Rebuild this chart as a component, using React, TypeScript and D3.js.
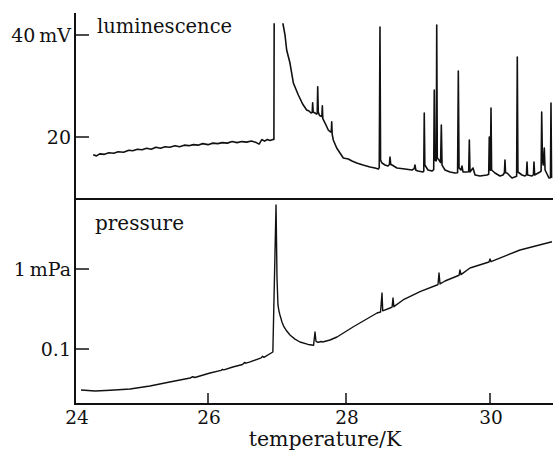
import React from "react";
import * as d3 from "d3";

// luminescence: [temperature K, signal mV]
const luminescence: [number, number][] = [
  [24.26, 16.5], [24.31, 16.3], [24.36, 16.7], [24.43, 16.6], [24.5, 16.9], [24.57, 16.8],
  [24.64, 17.1], [24.72, 17.0], [24.8, 17.4], [24.86, 17.3], [24.93, 17.6], [25.0, 17.5],
  [25.07, 17.8], [25.14, 17.6], [25.21, 18.0], [25.28, 17.8], [25.35, 18.1], [25.42, 18.0],
  [25.5, 18.3], [25.57, 18.1], [25.64, 18.4], [25.71, 18.3], [25.78, 18.5], [25.85, 18.4],
  [25.92, 18.7], [26.0, 18.5], [26.07, 18.8], [26.14, 18.7], [26.21, 18.9], [26.28, 18.8],
  [26.35, 19.1], [26.42, 18.9], [26.49, 19.1], [26.56, 19.0], [26.63, 19.2], [26.7, 18.9],
  [26.74, 18.6], [26.78, 19.5], [26.82, 19.2], [26.86, 19.5], [26.9, 19.3], [26.94, 19.5],
  [26.955, 19.5], [26.96, 48], [27.08, 48], [27.087, 42.16], [27.116, 40.0], [27.14, 37.06],
  [27.188, 34.5], [27.237, 30.6], [27.309, 28.24], [27.358, 26.86], [27.381, 26.27],
  [27.43, 25.29], [27.464, 25.1], [27.493, 24.7], [27.51, 24.8], [27.517, 26.7], [27.524, 24.9],
  [27.551, 24.7], [27.573, 24.5], [27.583, 24.6], [27.59, 29.86], [27.598, 24.9], [27.613, 24.3],
  [27.63, 24.1], [27.65, 24.0], [27.657, 26.1], [27.664, 23.6], [27.71, 22.35], [27.743, 21.37],
  [27.775, 21.0], [27.787, 21.0], [27.793, 23.0], [27.8, 20.5], [27.816, 19.41], [27.865, 17.84],
  [27.913, 16.86], [27.961, 15.88], [28.032, 15.69], [28.083, 15.3], [28.149, 14.9],
  [28.236, 14.51], [28.333, 14.12], [28.403, 13.92], [28.449, 13.73], [28.462, 14.0],
  [28.472, 41.57], [28.48, 15.49], [28.5, 14.9], [28.542, 14.51], [28.583, 14.31], [28.603, 14.6],
  [28.611, 16.08], [28.622, 14.6], [28.639, 14.51], [28.708, 13.92], [28.819, 13.73],
  [28.917, 13.53], [28.948, 13.8], [28.958, 14.51], [28.97, 13.5], [29.0, 13.33], [29.069, 13.14],
  [29.08, 13.3], [29.087, 24.71], [29.095, 14.5], [29.139, 13.53], [29.194, 13.33],
  [29.218, 13.6], [29.226, 29.22], [29.234, 15.49], [29.25, 15.3], [29.254, 15.4],
  [29.26, 41.96], [29.268, 15.88], [29.292, 15.49], [29.314, 15.0], [29.324, 22.35],
  [29.334, 14.5], [29.375, 13.53], [29.444, 13.14], [29.514, 12.94], [29.55, 13.0],
  [29.56, 32.94], [29.57, 13.92], [29.597, 13.53], [29.611, 14.31], [29.625, 13.14],
  [29.667, 13.14], [29.704, 13.2], [29.713, 19.41], [29.722, 13.14], [29.764, 13.92],
  [29.792, 12.55], [29.861, 12.35], [29.958, 12.55], [29.982, 12.7], [29.99, 20.0],
  [29.998, 13.53], [30.005, 13.5], [30.014, 25.69], [30.022, 13.53], [30.069, 12.94],
  [30.139, 12.35], [30.18, 12.55], [30.2, 13.0], [30.208, 15.49], [30.216, 13.0],
  [30.236, 12.94], [30.306, 11.96], [30.37, 12.3], [30.379, 35.69], [30.388, 13.14],
  [30.444, 12.55], [30.486, 12.35], [30.506, 12.6], [30.514, 15.1], [30.522, 12.55],
  [30.583, 12.35], [30.603, 12.6], [30.611, 15.1], [30.62, 12.55], [30.694, 13.14],
  [30.71, 13.3], [30.718, 24.9], [30.728, 15.49], [30.74, 14.5], [30.754, 17.84],
  [30.765, 13.53], [30.819, 11.96], [30.84, 12.0], [30.847, 26.67], [30.855, 11.96],
];

// pressure: [temperature K, pressure mPa]
const pressure: [number, number][] = [
  [24.076, 0.0307], [24.29, 0.0299], [24.52, 0.0305], [24.82, 0.0316], [25.12, 0.0345],
  [25.42, 0.0387], [25.73, 0.0434], [25.77, 0.045], [25.8, 0.044], [26.03, 0.0501],
  [26.19, 0.054], [26.21, 0.0556], [26.23, 0.0548], [26.36, 0.0596], [26.5, 0.064],
  [26.53, 0.068], [26.55, 0.0665], [26.61, 0.069], [26.77, 0.0775], [26.79, 0.081],
  [26.81, 0.0785], [26.94, 0.0917], [26.986, 6.31], [27.0, 0.772], [27.014, 0.355],
  [27.028, 0.3], [27.043, 0.266], [27.072, 0.2176], [27.1, 0.19], [27.13, 0.1728],
  [27.188, 0.1496], [27.26, 0.133], [27.333, 0.1223], [27.45, 0.114], [27.507, 0.1122],
  [27.53, 0.111], [27.551, 0.163], [27.565, 0.125], [27.58, 0.1223], [27.6, 0.1215],
  [27.64, 0.124], [27.66, 0.1225], [27.768, 0.1296], [27.87, 0.1413], [27.98, 0.162],
  [28.097, 0.1884], [28.27, 0.232], [28.431, 0.2818], [28.48, 0.29], [28.5, 0.501],
  [28.51, 0.3], [28.611, 0.3255], [28.64, 0.334], [28.653, 0.434], [28.665, 0.338],
  [28.792, 0.41], [29.028, 0.52], [29.264, 0.631], [29.278, 0.64], [29.292, 0.891],
  [29.306, 0.65], [29.375, 0.708], [29.57, 0.835], [29.583, 0.972], [29.597, 0.85],
  [29.722, 1.029], [29.986, 1.223], [30.0, 1.334], [30.014, 1.235], [30.417, 1.727],
  [30.861, 2.19],
];

const xTicks = [24, 26, 28, 30];
const xTickLabels = ["24", "26", "28", "30"];
const lumTicks = [20, 40];
const lumTickLabels = ["20", "40\u2009mV"];
const presTicks = [0.1, 1];
const presTickLabels = ["0.1", "1\u2009mPa"];

const W = 553;
const H = 452;
const FONT = "'DejaVu Serif', serif";

export default function App() {
  const left = 75;
  const sep = 199;
  const bottom = 404;
  const top = 13;

  const x = d3.scaleLinear().domain([24, 26, 28, 30, 31]).range([76, 208, 346, 490, 562]);
  const yLum = d3.scaleLinear().domain([20, 40]).range([137, 35]);
  const yPres = d3.scaleLog().domain([Math.pow(10, -1.6875), Math.pow(10, 0.875)]).range([bottom, sep]);

  const lumLine = d3
    .line<[number, number]>()
    .x((d) => x(d[0]))
    .y((d) => yLum(d[1]));
  const presLine = d3
    .line<[number, number]>()
    .x((d) => x(d[0]))
    .y((d) => yPres(d[1]));

  return (
    <svg
      width={W}
      height={H}
      style={{ position: "absolute", left: 0, top: 0, background: "#fff" }}
      fontFamily={FONT}
    >
      <defs>
        <clipPath id="clipLum">
          <rect x={left} y={yLum(42.3)} width={W - left} height={sep - yLum(42.3)} />
        </clipPath>
        <clipPath id="clipPres">
          <rect x={left} y={sep + 1} width={W - left} height={bottom - sep - 2} />
        </clipPath>
      </defs>

      {/* data */}
      <path
        d={lumLine(luminescence) || ""}
        fill="none"
        stroke="#111"
        strokeWidth={1.6}
        strokeLinejoin="round"
        clipPath="url(#clipLum)"
      />
      <path
        d={presLine(pressure) || ""}
        fill="none"
        stroke="#111"
        strokeWidth={1.4}
        strokeLinejoin="round"
        clipPath="url(#clipPres)"
      />

      {/* frame */}
      <line x1={left} x2={left} y1={top} y2={bottom + 1} stroke="#111" strokeWidth={2} />
      <line x1={left} x2={W} y1={sep} y2={sep} stroke="#111" strokeWidth={2} />
      <line x1={left - 1} x2={W} y1={bottom} y2={bottom} stroke="#111" strokeWidth={2} />

      {/* x ticks */}
      {xTicks.map((t, i) => (
        <g key={"xt" + t}>
          {i > 0 && (
            <line x1={x(t)} x2={x(t)} y1={bottom} y2={bottom - 11} stroke="#111" strokeWidth={1.5} />
          )}
          <text x={x(t) + 1} y={424} fontSize={18.5} textAnchor="middle" fill="#111">
            {xTickLabels[i]}
          </text>
        </g>
      ))}

      {/* luminescence ticks */}
      {lumTicks.map((t, i) => (
        <g key={"lt" + t}>
          <line x1={left} x2={left + 14} y1={yLum(t)} y2={yLum(t)} stroke="#111" strokeWidth={1.5} />
          <text x={71} y={yLum(t) + 7} fontSize={19} textAnchor="end" fill="#111">
            {lumTickLabels[i]}
          </text>
        </g>
      ))}

      {/* pressure ticks */}
      {presTicks.map((t, i) => (
        <g key={"pt" + t}>
          <line x1={left} x2={left + 14} y1={yPres(t)} y2={yPres(t)} stroke="#111" strokeWidth={1.5} />
          <text x={71} y={yPres(t) + 7} fontSize={19} textAnchor="end" fill="#111">
            {presTickLabels[i]}
          </text>
        </g>
      ))}

      {/* labels */}
      <text x={97} y={33} fontSize={19.5} fill="#111">
        luminescence
      </text>
      <text x={95} y={230} fontSize={20} fill="#111">
        pressure
      </text>
      <text x={325} y={446} fontSize={20.5} textAnchor="middle" fill="#111">
        temperature/K
      </text>
    </svg>
  );
}
